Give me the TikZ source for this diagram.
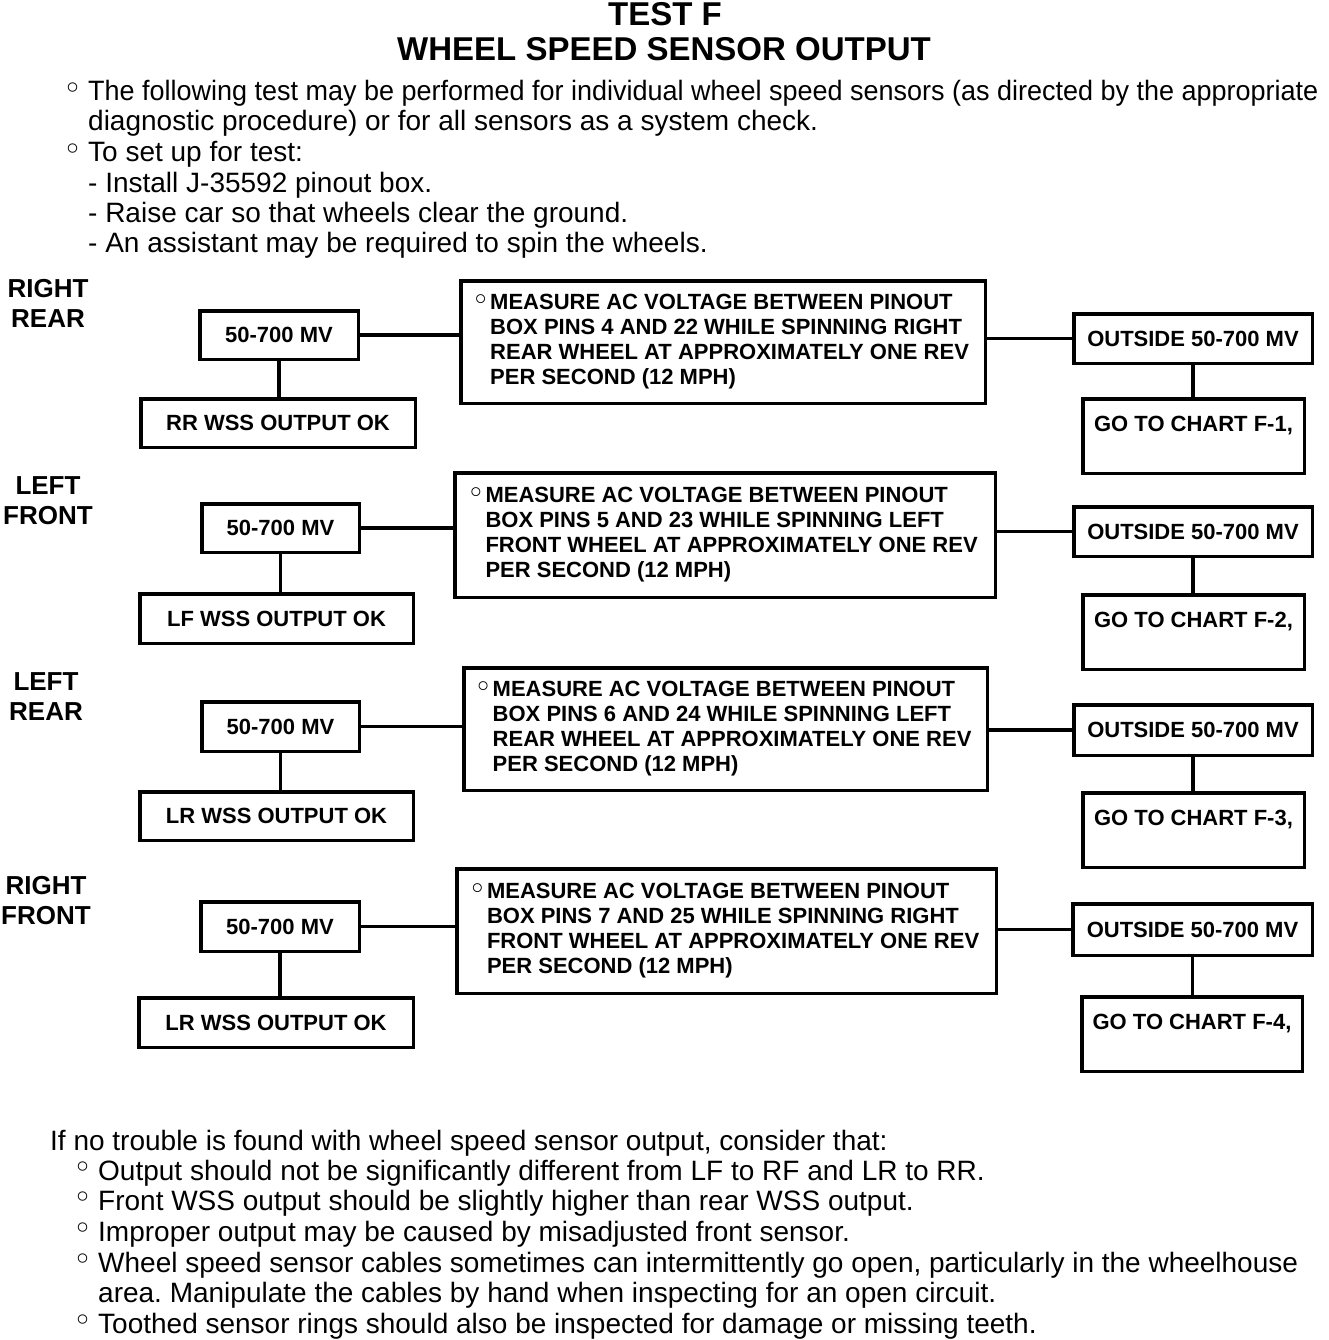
\documentclass[tikz,border=0pt]{standalone}
\usepackage{fontspec}
\usepackage{graphicx}
\setmainfont{Liberation Sans}
\newfontfamily\dejavu{DejaVu Sans}
\frenchspacing
\newcommand\wbul{\raisebox{0.05em}{\scalebox{1.15}{\dejavu\char"25E6}}}
\newcommand\mb{\makebox[0.6em][l]{\hspace*{-0.2em}\wbul}}
\newcommand\mi{\hspace*{0.6em}}
\newcommand\bx[7]{\node[#6, minimum width={(#4-#2-3.5)*1pt}, minimum height={(#5-#3-3.5)*1pt}] (#1) at ({(#2+#4)/2},{(#3+#5)/2}) {#7};}
\tikzset{
 box/.style={draw, line width=3.5pt, inner sep=0pt, font=\bfseries\fontsize{22}{25}\selectfont, align=center},
 measure/.style={box, align=left},
 lbl/.style={font=\bfseries\fontsize{26}{30}\selectfont, align=center, inner sep=0pt},
 body/.style={font=\fontsize{28}{30}\selectfont, anchor=base west, inner sep=0pt},
 ttl/.style={font=\bfseries\fontsize{33}{35}\selectfont, anchor=base, inner sep=0pt},
 wire/.style={line width=3.5pt},
}
\begin{document}
\begin{tikzpicture}[x=1pt,y=-1pt]
\useasboundingbox[fill=white] (0,0) rectangle (1328,1340);
% title
\node[ttl] (title1) at (665,26) {TEST F};
\node[ttl] (title2) at (664,61) {WHEEL SPEED SENSOR OUTPUT};
% intro
\node[body] (i1) at (63,101) {\makebox[25pt][l]{\wbul}\resizebox{1230pt}{\height}{The following test may be performed for individual wheel speed sensors (as directed by the appropriate}};
\node[body] (i2) at (88,131) {diagnostic procedure) or for all sensors as a system check.};
\node[body] (i3) at (63,162) {\makebox[25pt][l]{\wbul}To set up for test:};
\node[body] (i4) at (88,193) {- Install J-35592 pinout box.};
\node[body] (i5) at (88,223) {- Raise car so that wheels clear the ground.};
\node[body] (i6) at (88,253) {- An assistant may be required to spin the wheels.};
% row labels
\node[lbl] (l1) at (48,303) {RIGHT\\REAR};
\node[lbl] (l2) at (48,501) {LEFT\\FRONT};
\node[lbl] (l3) at (46,697) {LEFT\\REAR};
\node[lbl] (l4) at (46,901) {RIGHT\\FRONT};
% row 1
\bx{mv1}{198}{309}{360}{361}{box}{50-700 MV}
\bx{ok1}{139}{397}{417}{449}{box}{RR WSS OUTPUT OK}
\bx{me1}{459}{279}{987}{405}{measure}{\mb MEASURE AC VOLTAGE BETWEEN PINOUT\\\mi BOX PINS 4 AND 22 WHILE SPINNING RIGHT\\\mi REAR WHEEL AT APPROXIMATELY ONE REV\\\mi PER SECOND (12 MPH)}
\bx{out1}{1072}{312}{1314}{365}{box}{OUTSIDE 50-700 MV}
\bx{go1}{1081}{397}{1306}{475}{box}{GO TO CHART F-1,\\~}
% row 2
\bx{mv2}{200}{502}{361}{554}{box}{50-700 MV}
\bx{ok2}{138}{592}{415}{645}{box}{LF WSS OUTPUT OK}
\bx{me2}{453}{471}{997}{599}{measure}{\mb MEASURE AC VOLTAGE BETWEEN PINOUT\\\mi BOX PINS 5 AND 23 WHILE SPINNING LEFT\\\mi FRONT WHEEL AT APPROXIMATELY ONE REV\\\mi PER SECOND (12 MPH)}
\bx{out2}{1072}{505}{1314}{558}{box}{OUTSIDE 50-700 MV}
\bx{go2}{1081}{593}{1306}{671}{box}{GO TO CHART F-2,\\~}
% row 3
\bx{mv3}{200}{700}{361}{753}{box}{50-700 MV}
\bx{ok3}{138}{790}{415}{842}{box}{LR WSS OUTPUT OK}
\bx{me3}{462}{666}{989}{792}{measure}{\mb MEASURE AC VOLTAGE BETWEEN PINOUT\\\mi BOX PINS 6 AND 24 WHILE SPINNING LEFT\\\mi REAR WHEEL AT APPROXIMATELY ONE REV\\\mi PER SECOND (12 MPH)}
\bx{out3}{1072}{703}{1314}{757}{box}{OUTSIDE 50-700 MV}
\bx{go3}{1081}{791}{1306}{869}{box}{GO TO CHART F-3,\\~}
% row 4
\bx{mv4}{199}{900}{361}{953}{box}{50-700 MV}
\bx{ok4}{137}{996}{415}{1049}{box}{LR WSS OUTPUT OK}
\bx{me4}{455}{867}{998}{995}{measure}{\mb MEASURE AC VOLTAGE BETWEEN PINOUT\\\mi BOX PINS 7 AND 25 WHILE SPINNING RIGHT\\\mi FRONT WHEEL AT APPROXIMATELY ONE REV\\\mi PER SECOND (12 MPH)}
\bx{out4}{1071}{902}{1314}{957}{box}{OUTSIDE 50-700 MV}
\bx{go4}{1080}{995}{1304}{1073}{box}{GO TO CHART F-4,\\~}
% connectors
\foreach \i in {1,2,3,4}{
  \draw[wire] (mv\i.east) -- (mv\i.east -| me\i.west);
  \draw[wire] (out\i.west) -- (out\i.west -| me\i.east);
  \draw[wire] (mv\i.south) -- (mv\i.south |- ok\i.north);
  \draw[wire] (out\i.south) -- (out\i.south |- go\i.north);
}
% bottom notes
\node[body] (n0) at (50,1150) {If no trouble is found with wheel speed sensor output, consider that:};
\node[body] (n1) at (73,1180) {\makebox[25pt][l]{\wbul}Output should not be significantly different from LF to RF and LR to RR.};
\node[body] (n2) at (73,1210) {\makebox[25pt][l]{\wbul}Front WSS output should be slightly higher than rear WSS output.};
\node[body] (n3) at (73,1241) {\makebox[25pt][l]{\wbul}Improper output may be caused by misadjusted front sensor.};
\node[body] (n4) at (73,1272) {\makebox[25pt][l]{\wbul}Wheel speed sensor cables sometimes can intermittently go open, particularly in the wheelhouse};
\node[body] (n5) at (98,1302) {area. Manipulate the cables by hand when inspecting for an open circuit.};
\node[body] (n6) at (73,1333) {\makebox[25pt][l]{\wbul}Toothed sensor rings should also be inspected for damage or missing teeth.};
\end{tikzpicture}
\end{document}
